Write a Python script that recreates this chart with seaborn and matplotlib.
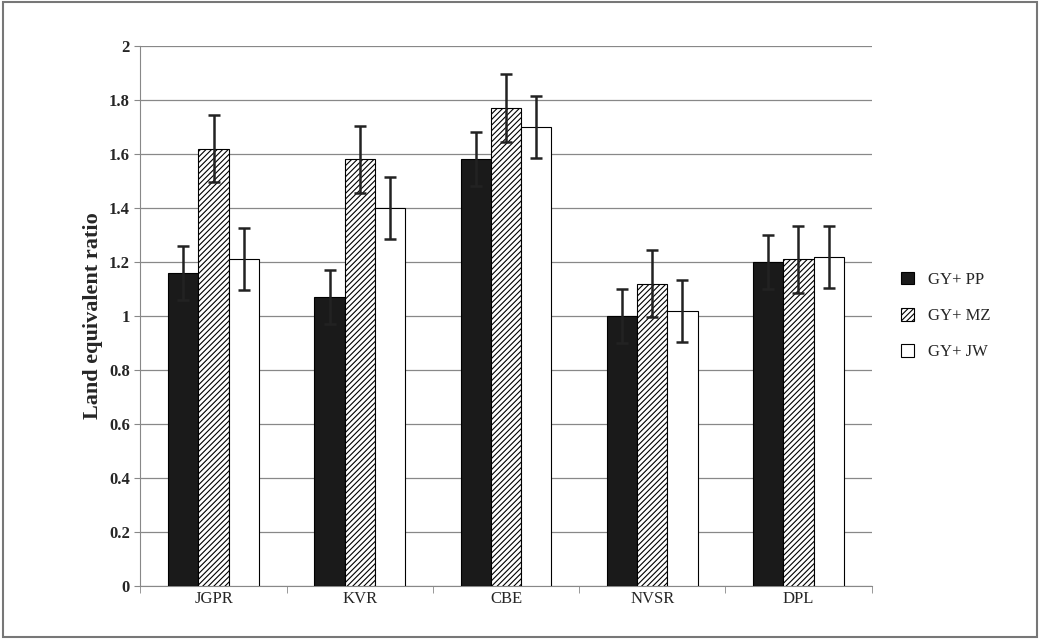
import pandas as pd
import matplotlib.pyplot as plt
import seaborn as sns

sites = ['JGPR', 'KVR', 'CBE', 'NVSR', 'DPL']
series = ['GY+ PP', 'GY+ MZ', 'GY+ JW']
pp = [1.16, 1.07, 1.58, 1.00, 1.20]
mz = [1.62, 1.58, 1.77, 1.12, 1.21]
jw = [1.21, 1.40, 1.70, 1.02, 1.22]
pp_err = [0.10, 0.10, 0.10, 0.10, 0.10]
mz_err = [0.125, 0.125, 0.125, 0.125, 0.125]
jw_err = [0.115, 0.115, 0.115, 0.115, 0.115]

df = pd.DataFrame({
    'site': sites * 3,
    'series': [s for s in series for _ in sites],
    'ler': pp + mz + jw,
})
errs = pp_err + mz_err + jw_err

sns.set_style('white')
plt.rcParams['font.family'] = ['Liberation Serif', 'DejaVu Serif']
plt.rcParams['hatch.linewidth'] = 0.8

fig = plt.figure(figsize=(10.4, 6.39), dpi=100)
fig.patches.append(plt.Rectangle((0.003, 0.003), 0.994, 0.994, transform=fig.transFigure,
                                 fill=False, edgecolor='#777777', lw=1.5))
ax = fig.add_axes([0.135, 0.083, 0.703, 0.845])
sns.barplot(data=df, x='site', y='ler', hue='series', order=sites, hue_order=series,
            palette=['#1a1a1a', 'white', 'white'], edgecolor='black', linewidth=0.8,
            width=0.62, ax=ax, zorder=3, legend=False)

containers = list(ax.containers)
for i, cont in enumerate(containers):
    for j, bar in enumerate(cont):
        if i == 1:
            bar.set_hatch('//////')
        x = bar.get_x() + bar.get_width() / 2
        ax.errorbar(x, bar.get_height(), yerr=errs[i * len(sites) + j], color='#222222',
                    capsize=4, elinewidth=1.8, capthick=1.8, zorder=4)

ax.set_ylim(0, 2)
ax.set_yticks([0, 0.2, 0.4, 0.6, 0.8, 1, 1.2, 1.4, 1.6, 1.8, 2])
ax.set_yticklabels(['0', '0.2', '0.4', '0.6', '0.8', '1', '1.2', '1.4', '1.6', '1.8', '2'],
                   fontweight='bold', fontsize=12)
ax.yaxis.grid(True, color='#888888', lw=0.9, zorder=0)
ax.set_axisbelow(True)
for s in ['top', 'right']:
    ax.spines[s].set_visible(False)
for s in ['left', 'bottom']:
    ax.spines[s].set_color('#888888')
ax.set_xlabel('')
ax.set_ylabel('Land equivalent ratio', fontweight='bold', fontsize=16)
ax.tick_params(axis='x', labelsize=12, length=0)
ax.set_xticks([k + 0.5 for k in range(-1, len(sites))], minor=True)
ax.tick_params(axis='x', which='minor', length=5, color='#888888', bottom=True)
ax.tick_params(axis='y', length=4, color='#888888', left=True)
ax.set_xlim(-0.5, len(sites) - 0.5)

handles = [plt.Rectangle((0, 0), 1, 1, facecolor=c.patches[0].get_facecolor(),
                         edgecolor='black', lw=0.8, hatch=c.patches[0].get_hatch())
           for c in containers]
ax.legend(handles, series, loc='center left', bbox_to_anchor=(1.02, 0.5), frameon=False,
          fontsize=12, handlelength=0.8, handleheight=0.8, labelspacing=1.2)
fig.savefig('out.png')
